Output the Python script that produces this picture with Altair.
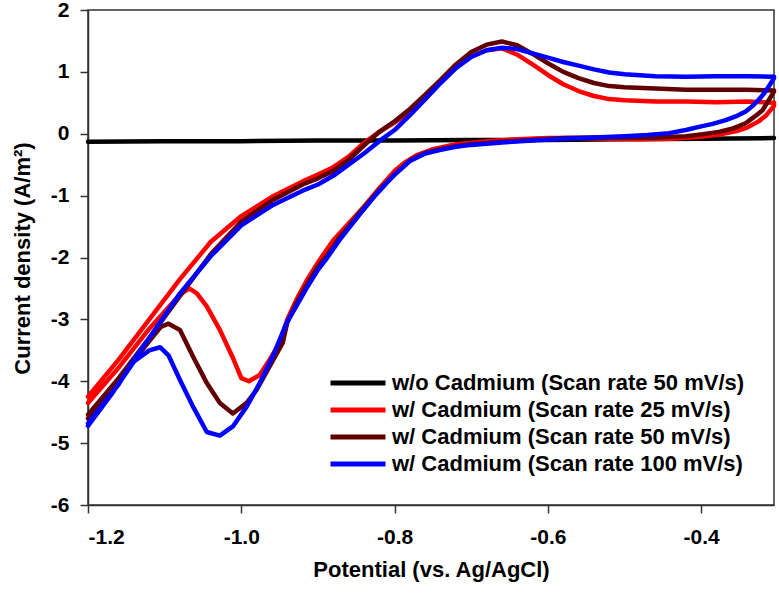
import altair as alt
import pandas as pd

labels = [
    "w/o Cadmium (Scan rate 50 mV/s)",
    "w/ Cadmium (Scan rate 25 mV/s)",
    "w/ Cadmium (Scan rate 50 mV/s)",
    "w/ Cadmium (Scan rate 100 mV/s)",
]
colors = ["#000000", "#ff0000", "#600000", "#0000ff"]

# Black: without cadmium
black_x = [-1.2, -1.1, -1.0, -0.9, -0.8, -0.7, -0.6, -0.5, -0.4, -0.305]
black_y = [-0.13, -0.12, -0.12, -0.11, -0.11, -0.10, -0.10, -0.09, -0.08, -0.07]

# Red: 25 mV/s (forward sweep, then return sweep)
red_x = [-1.2, -1.16, -1.12, -1.08, -1.04, -1.0, -0.96, -0.92, -0.9, -0.88, -0.86, -0.84, -0.82,
         -0.8, -0.78, -0.76, -0.74, -0.72, -0.7, -0.68, -0.66, -0.64, -0.62, -0.6, -0.58, -0.56,
         -0.54, -0.52, -0.5, -0.46, -0.42, -0.38, -0.34, -0.305,
         -0.305, -0.315, -0.325, -0.34, -0.355, -0.38, -0.4, -0.44, -0.48, -0.52, -0.56, -0.6,
         -0.64, -0.68, -0.72, -0.75, -0.77, -0.785, -0.8, -0.82, -0.84, -0.86, -0.88, -0.9, -0.915,
         -0.928, -0.94, -0.95, -0.963, -0.976, -0.99, -1.0, -1.011, -1.028, -1.045, -1.058,
         -1.068, -1.08, -1.12, -1.16, -1.2]
red_y = [-4.25, -3.65, -3.0, -2.35, -1.75, -1.33, -1.02, -0.77, -0.66, -0.54, -0.37, -0.15, 0.03,
         0.18, 0.36, 0.6, 0.83, 1.07, 1.25, 1.35, 1.38, 1.28, 1.12, 0.95, 0.8, 0.69,
         0.61, 0.56, 0.54, 0.52, 0.52, 0.51, 0.52, 0.5,
         0.45, 0.3, 0.2, 0.1, 0.04, -0.02, -0.05, -0.08, -0.09, -0.08, -0.07, -0.07,
         -0.09, -0.12, -0.17, -0.25, -0.34, -0.45, -0.6, -0.88, -1.18, -1.45, -1.72, -2.08, -2.38,
         -2.68, -3.0, -3.38, -3.65, -3.9, -4.0, -3.95, -3.62, -3.17, -2.79, -2.58,
         -2.5, -2.6, -3.15, -3.78, -4.35]

# Brown: 50 mV/s
brown_x = [-1.2, -1.16, -1.12, -1.08, -1.04, -1.0, -0.96, -0.92, -0.9, -0.88, -0.86, -0.84, -0.82,
           -0.8, -0.78, -0.76, -0.74, -0.72, -0.7, -0.68, -0.66, -0.64, -0.62, -0.6, -0.58, -0.56,
           -0.54, -0.52, -0.5, -0.46, -0.42, -0.38, -0.34, -0.305,
           -0.305, -0.315, -0.32, -0.33, -0.342, -0.36, -0.377, -0.4, -0.42, -0.46, -0.5, -0.54,
           -0.58, -0.62, -0.66, -0.7, -0.72, -0.74, -0.76, -0.78, -0.8, -0.81, -0.824, -0.846,
           -0.86, -0.872, -0.89, -0.9, -0.915, -0.928, -0.94, -0.946, -0.963, -0.98, -0.993,
           -1.011, -1.028, -1.045, -1.063, -1.08, -1.095, -1.105, -1.12, -1.16, -1.2]
brown_y = [-4.54, -3.95, -3.3, -2.62, -1.95, -1.42, -1.08, -0.82, -0.72, -0.6, -0.42, -0.19, 0.03,
           0.2, 0.4, 0.63, 0.87, 1.12, 1.32, 1.44, 1.49, 1.43, 1.29, 1.14, 1.0, 0.9,
           0.82, 0.77, 0.75, 0.73, 0.71, 0.71, 0.71, 0.7,
           0.68, 0.48, 0.38, 0.28, 0.17, 0.08, 0.03, -0.01, -0.04, -0.06, -0.06, -0.06,
           -0.07, -0.1, -0.13, -0.17, -0.2, -0.25, -0.31, -0.43, -0.66, -0.78, -0.96, -1.28,
           -1.5, -1.68, -2.0, -2.15, -2.45, -2.74, -3.05, -3.38, -3.76, -4.14, -4.35,
           -4.52, -4.35, -4.03, -3.6, -3.17, -3.07, -3.12, -3.35, -3.98, -4.6]

# Blue: 100 mV/s
blue_x = [-1.2, -1.16, -1.14, -1.12, -1.08, -1.04, -1.0, -0.96, -0.92, -0.9, -0.88, -0.86, -0.84,
          -0.82, -0.8, -0.78, -0.76, -0.74, -0.72, -0.7, -0.68, -0.66, -0.64, -0.62, -0.6, -0.58,
          -0.56, -0.54, -0.52, -0.5, -0.46, -0.42, -0.38, -0.34, -0.305,
          -0.305, -0.31, -0.318, -0.325, -0.333, -0.342, -0.355, -0.368, -0.385, -0.4, -0.42,
          -0.442, -0.47, -0.5, -0.54, -0.58, -0.62, -0.66, -0.7, -0.72, -0.74, -0.76, -0.78,
          -0.8, -0.81, -0.824, -0.846, -0.86, -0.872, -0.89, -0.9, -0.915, -0.928, -0.941,
          -0.959, -0.976, -0.993, -1.011, -1.028, -1.045, -1.063, -1.08, -1.095, -1.106, -1.12,
          -1.14, -1.17, -1.2]
blue_y = [-4.68, -4.05, -3.65, -3.3, -2.58, -1.98, -1.48, -1.16, -0.92, -0.82, -0.68, -0.5, -0.32,
          -0.12, 0.06, 0.3, 0.56, 0.82, 1.06, 1.24, 1.35, 1.39, 1.37, 1.3, 1.23, 1.16,
          1.1, 1.04, 0.99, 0.96, 0.93, 0.92, 0.93, 0.93, 0.92,
          0.9, 0.8, 0.65, 0.55, 0.45, 0.36, 0.28, 0.22, 0.16, 0.12, 0.06,
          0.01, -0.02, -0.04, -0.06, -0.08, -0.11, -0.14, -0.18, -0.21, -0.26, -0.32, -0.44,
          -0.66, -0.79, -0.98, -1.31, -1.53, -1.72, -2.04, -2.2, -2.5, -2.78, -3.06,
          -3.6, -4.03, -4.41, -4.73, -4.88, -4.82, -4.41, -3.98, -3.58, -3.45, -3.5,
          -3.68, -4.22, -4.72]

x_ticks = [-1.2, -1.0, -0.8, -0.6, -0.4]
y_ticks = [-6, -5, -4, -3, -2, -1, 0, 1, 2]

rows = []
for lab, xs, ys in zip(labels, [black_x, red_x, brown_x, blue_x], [black_y, red_y, brown_y, blue_y]):
    for i, (xv, yv) in enumerate(zip(xs, ys)):
        rows.append({"series": lab, "x": xv, "y": yv, "i": i})
df = pd.DataFrame(rows)

FONT = "Liberation Sans"

chart = alt.Chart(df).mark_line(
    strokeWidth=4.5, strokeJoin="round", strokeCap="round"
).encode(
    x=alt.X(
        "x:Q",
        scale=alt.Scale(domain=[-1.2, -0.305], nice=False, zero=False),
        axis=alt.Axis(
            values=x_ticks,
            labelExpr="datum.value < 0 ? '-' + format(-datum.value, '.1f') : format(datum.value, '.1f')",
            title="Potential (vs. Ag/AgCl)",
            grid=False,
            tickSize=8,
            labelPadding=13,
            labelFontSize=21,
            labelFontWeight="bold",
            labelFont=FONT,
            labelColor="#000000",
            titleFont=FONT,
            titleFontSize=22,
            titleFontWeight="bold",
            titleColor="#000000",
            titleBaseline="middle",
            titleY=64,
            domainColor="#333333",
            tickColor="#333333",
            domainWidth=1.5,
            tickWidth=1.5,
        ),
    ),
    y=alt.Y(
        "y:Q",
        scale=alt.Scale(domain=[-6, 2], nice=False, zero=False),
        axis=alt.Axis(
            values=y_ticks,
            labelExpr="datum.value < 0 ? '-' + format(-datum.value, 'd') : format(datum.value, 'd')",
            title="Current density (A/m²)",
            grid=False,
            tickSize=8,
            labelPadding=11,
            labelFontSize=21,
            labelFontWeight="bold",
            labelFont=FONT,
            labelColor="#000000",
            titleFont=FONT,
            titleFontSize=22,
            titleFontWeight="bold",
            titleColor="#000000",
            titleBaseline="middle",
            titleAngle=270,
            titleX=-66,
            titleY=248,
            domainColor="#333333",
            tickColor="#333333",
            domainWidth=1.5,
            tickWidth=1.5,
        ),
    ),
    color=alt.Color(
        "series:N",
        scale=alt.Scale(domain=labels, range=colors),
        legend=alt.Legend(
            title=None,
            orient="none",
            legendX=258,
            legendY=361,
            symbolType="M-3,0H3",
            symbolSize=336,
            symbolStrokeWidth=5,
            labelFont=FONT,
            labelFontSize=22,
            labelFontWeight="bold",
            labelColor="#000000",
            labelLimit=600,
            labelOffset=22,
            rowPadding=4,
        ),
    ),
    order="i:Q",
).properties(
    width=686,
    height=495,
    autosize=alt.AutoSizeParams(type="none"),
    padding={"left": 88, "top": 10, "right": 5, "bottom": 91},
).configure_view(
    stroke="#333333", strokeWidth=1.5
)

chart.save("out.html", embed_options={"renderer": "svg", "actions": False})
